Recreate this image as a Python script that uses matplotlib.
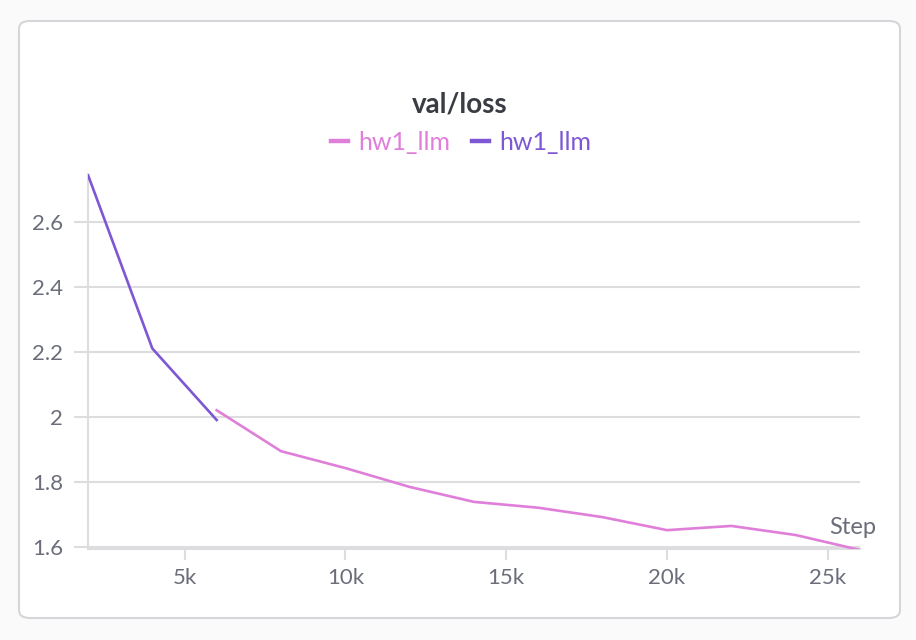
import matplotlib
matplotlib.use("Agg")
import matplotlib.pyplot as plt
from matplotlib.patches import FancyBboxPatch
from matplotlib.ticker import FuncFormatter

# run colours
pink = "#e07fd9"
purple = "#7e57d4"
grid_col = "#dddde0"
text_col = "#6b6e7a"

# second run (later part of training)
steps_a = [6000, 8000, 10000, 12000, 14000, 16000, 18000, 20000, 22000, 24000, 26000]
loss_a = [2.02, 1.894, 1.842, 1.784, 1.738, 1.72, 1.691, 1.651, 1.664, 1.636, 1.59]
# first run
steps_b = [2000, 4000, 6000]
loss_b = [2.744, 2.21, 1.99]

series_labels = ["hw1_llm", "hw1_llm"]
yticks = [1.6, 1.8, 2.0, 2.2, 2.4, 2.6]
xticks = [5000, 10000, 15000, 20000, 25000]

plt.rcParams['font.family'] = ['Lato', 'DejaVu Sans']

W, H = 916, 640
fig = plt.figure(figsize=(W / 100, H / 100), dpi=100)
fig.patch.set_facecolor("#fafafa")

# panel card
card = FancyBboxPatch((19 / W, 1 - 618 / H), (900 - 19) / W, (618 - 21) / H,
                      boxstyle="round,pad=0,rounding_size=0.012",
                      transform=fig.transFigure, facecolor="white",
                      edgecolor="#d6d6da", linewidth=1.5, zorder=-10)
fig.patches.append(card)

ax = fig.add_axes([88 / W, 1 - 549 / H, (860 - 88) / W, (549 - 174) / H])
ax.set_facecolor("none")

ax.plot(steps_a, loss_a, color=pink, lw=1.9, label=series_labels[0], zorder=3)
ax.plot(steps_b, loss_b, color=purple, lw=1.9, label=series_labels[1], zorder=4)

ax.set_xlim(2000, 26000)
ax.set_ylim(1.593, 2.747)
ax.set_yticks(yticks)
ax.set_xticks(xticks)
ax.yaxis.set_major_formatter(FuncFormatter(lambda v, p: ("%g" % round(v, 2))))
ax.xaxis.set_major_formatter(FuncFormatter(lambda v, p: "%dk" % int(v / 1000)))

ax.grid(axis="y", color=grid_col, lw=1.5)
ax.set_axisbelow(True)
for s in ["top", "right"]:
    ax.spines[s].set_visible(False)
for s in ["left", "bottom"]:
    ax.spines[s].set_color(grid_col)
    ax.spines[s].set_linewidth(1.5)
ax.tick_params(axis="both", colors=grid_col, labelcolor=text_col, labelsize=16, width=1.5)
ax.tick_params(axis="y", length=10, pad=8)
ax.tick_params(axis="x", length=8, pad=6)

ax.text(853 / W, 1 - 527 / H, "Step", transform=fig.transFigure,
        ha="center", va="center", fontsize=17, color=text_col)

fig.text(460 / W, 1 - 104 / H, "val/loss", ha="center", va="center",
         fontsize=20, fontweight="bold", color="#3a3c44")

leg = fig.legend(loc="center", bbox_to_anchor=(461 / W, 1 - 142 / H), ncol=2,
                 frameon=False, fontsize=18, handlelength=0.68, handletextpad=0.4,
                 columnspacing=0.9, labelcolor="linecolor")
for ln in leg.get_lines():
    ln.set_linewidth(3.2)

fig.savefig("out.png", dpi=100, facecolor=fig.get_facecolor())
